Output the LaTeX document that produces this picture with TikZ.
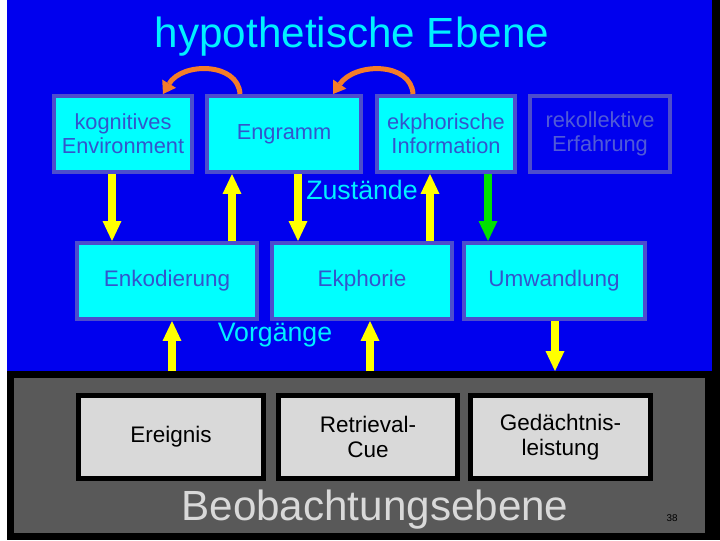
\documentclass[tikz,border=0pt]{standalone}
\usepackage{fontspec}
\setmainfont{Liberation Sans}
\usepackage{xcolor}
\usetikzlibrary{arrows.meta}
\newdimen\pxu \pxu=0.025cm
\definecolor{slideblue}{RGB}{0,0,238}
\definecolor{framblue}{RGB}{77,77,204}
\definecolor{boxcyan}{RGB}{0,255,255}
\definecolor{boxtext}{RGB}{51,85,204}
\definecolor{dimtext}{RGB}{80,90,215}
\definecolor{headcyan}{RGB}{0,240,255}
\definecolor{panelgray}{RGB}{89,89,89}
\definecolor{lightgray}{RGB}{217,217,217}
\definecolor{arryellow}{RGB}{255,255,0}
\definecolor{arrgreen}{RGB}{0,224,0}
\definecolor{arrorange}{RGB}{245,125,40}

\begin{document}
\begin{tikzpicture}[x=0.025cm, y=-0.025cm,
      state/.style={draw=framblue, line width=4\pxu, fill=boxcyan, text=boxtext,
                    align=center, inner sep=0pt, minimum height=76\pxu,
                    font={\fontsize{15.5}{17}\selectfont}},
      process/.style={state, font={\fontsize{16}{18}\selectfont}},
      observed/.style={draw=black, line width=5\pxu, fill=lightgray, text=black,
                       align=center, inner sep=0pt, minimum height=83\pxu,
                       font={\fontsize{16}{17.7}\selectfont}},
      heading/.style={text=headcyan, inner sep=0pt},
      yarr/.style={draw=arryellow, line width=8\pxu,
                   -{Triangle[width=13.5pt, length=14.2pt, line width=0pt]}},
      garr/.style={yarr, draw=arrgreen},
      oarr/.style={draw=arrorange, line width=5\pxu,
                   -{Triangle[width=11.4pt, length=8.5pt, line width=0pt]}}]
    \useasboundingbox (0,0) rectangle (720,540);
    \fill[white] (0,0) rectangle (720,540);
    \fill[black] (7,0) rectangle (720,540);
    \fill[slideblue] (7,0) rectangle (712,371);
    \node[heading, font={\fontsize{30}{34}\selectfont}] (title) at (352,37) {hypothetische Ebene};
    \node[state, minimum width=138\pxu] (kogn) at (123,134) {kognitives\\Environment};
    \node[state, minimum width=154\pxu] (engr) at (284,134) {Engramm};
    \node[state, minimum width=138\pxu] (ekph) at (446,134) {ekphorische\\Information};
    \node[state, minimum width=140\pxu, fill=slideblue, text=dimtext] (rekol) at (600,134) {rekollektive\\Erfahrung};
    \node[heading, font={\fontsize{19}{22}\selectfont}] (zust) at (362,190) {Zustände};
    \node[process, minimum width=180\pxu] (enk) at (167,281) {Enkodierung};
    \node[process, minimum width=180\pxu] (ekpho) at (362,281) {Ekphorie};
    \node[process, minimum width=181\pxu] (umw) at (554,281) {Umwandlung};
    \node[heading, font={\fontsize{19}{22}\selectfont}] (vorg) at (275,335) {Vorgänge};
    \node[draw=black, fill=panelgray, line width=7\pxu, inner sep=0pt,
          minimum width=698\pxu, minimum height=162\pxu] (beob) at (359.5,455.5) {};
    \node[observed, minimum width=185\pxu] (ereig) at (171,437) {Ereignis};
    \node[observed, minimum width=179\pxu] (retr) at (368,437) {Retrieval-\\Cue};
    \node[observed, minimum width=180\pxu] (ged) at (560.5,437) {Gedächtnis-\\leistung};
    \node[text=lightgray, inner sep=0pt, font={\fontsize{30}{34}\selectfont}] (beobtxt) at (375,510) {Beobachtungsebene};
    \node[inner sep=0pt, font={\fontsize{7}{8}\selectfont}] (slidenr) at (672,518) {38};
    \draw[oarr] (engr.north -| 240,0) .. controls (238,62) and (182,62) .. (kogn.north -| 163,0);
    \draw[oarr] (ekph.north -| 413,0) .. controls (411,62) and (355,62) .. (engr.north -| 333,0);
    \draw[yarr] (kogn.south -| 112,0) -- (enk.north -| 112,0);
    \draw[yarr] (enk.north -| 232,0) -- (engr.south -| 232,0);
    \draw[yarr] (engr.south -| 298,0) -- (ekpho.north -| 298,0);
    \draw[yarr] (ekpho.north -| 430,0) -- (ekph.south -| 430,0);
    \draw[garr] (ekph.south -| 488,0) -- (umw.north -| 488,0);
    \draw[yarr] (beob.north -| 172,0) -- (enk.south -| 172,0);
    \draw[yarr] (beob.north -| 370,0) -- (ekpho.south -| 370,0);
    \draw[yarr] (umw.south -| 555,0) -- (beob.north -| 555,0);
  \end{tikzpicture}
\end{document}
